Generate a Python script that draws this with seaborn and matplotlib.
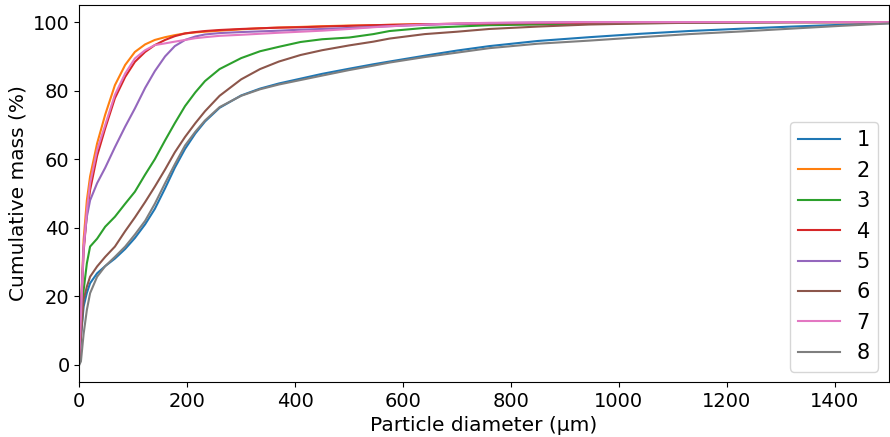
import matplotlib
matplotlib.use("Agg")
import matplotlib.pyplot as plt
import seaborn as sns
import pandas as pd

diameter = [0, 3, 8, 14, 20, 33, 48, 66, 85, 103, 122, 140, 159, 177, 196, 215, 233, 260,
            300, 335, 370, 410, 450, 500, 545, 575, 640, 700, 760, 850, 945, 1040, 1130,
            1230, 1320, 1410, 1500]

s1 = [0.5, 8, 17, 21, 23.8, 26.7, 28.8, 31, 33.8, 37, 41, 45.5, 51.5, 57.5, 63, 67.5, 71, 75,
      78.6, 80.6, 82.1, 83.5, 84.9, 86.4, 87.7, 88.5, 90.2, 91.7, 93.0, 94.5, 95.6, 96.6, 97.4,
      98.1, 98.7, 99.2, 99.7]
s2 = [2, 16, 36.5, 48, 55, 64.6, 73, 81.6, 87.5, 91.3, 93.5, 94.8, 95.6, 96.2, 96.7, 97, 97.2, 97.5,
      97.9, 98.2, 98.4, 98.6, 98.8, 99, 99.1, 99.2, 99.4, 99.5, 99.6, 99.7, 99.8, 99.9, 100,
      100, 100, 100, 100]
s3 = [1, 12, 21.7, 29.6, 34.5, 36.8, 40.3, 43.2, 47, 50.5, 55.5, 60, 65.5, 70.5, 75.5, 79.5, 82.8, 86.3,
      89.5, 91.5, 92.8, 94.2, 95.0, 95.5, 96.5, 97.4, 98.3, 98.7, 99.1, 99.3, 99.6, 99.7, 99.8,
      99.9, 100, 100, 100]
s4 = [2, 14, 33, 44, 51, 61, 69, 77.8, 84, 88.4, 91.3, 93.3, 94.8, 95.9, 96.7, 97.1, 97.4, 97.7,
      98, 98.2, 98.4, 98.5, 98.7, 98.9, 99.1, 99.2, 99.4, 99.5, 99.6, 99.7, 99.8, 99.9, 100,
      100, 100, 100, 100]
s5 = [2, 16, 34.5, 43.2, 48, 53, 57.5, 63.5, 69.5, 74.8, 80.8, 85.7, 90, 93, 94.8, 95.8, 96.4, 96.8,
      97.1, 97.3, 97.5, 97.8, 98, 98.3, 98.6, 98.8, 99.2, 99.5, 99.7, 99.9, 100, 100, 100,
      100, 100, 100, 100]
s6 = [1, 8, 19, 22.8, 25.7, 28.7, 31.5, 34.5, 39, 43, 47.5, 52, 57, 62, 66.5, 70.5, 74, 78.5,
      83.3, 86.3, 88.5, 90.4, 91.8, 93.2, 94.3, 95.2, 96.5, 97.2, 98, 98.7, 99.3, 99.6, 99.8,
      99.9, 100, 100, 100]
s7 = [2, 14, 34, 45.2, 53, 62.7, 70, 78.8, 85, 89.4, 91.8, 93.3, 93.8, 94.3, 94.8, 95.3, 95.6, 96,
      96.3, 96.6, 96.9, 97.2, 97.5, 98, 98.5, 98.8, 99.3, 99.6, 99.8, 99.9, 100, 100, 100,
      100, 100, 100, 100]
s8 = [0, 1, 9, 16, 20.9, 25.7, 28.8, 31.5, 34.5, 38, 42, 47, 53, 58.5, 64, 68, 71.3, 75.2,
      78.5, 80.4, 81.8, 83.1, 84.4, 86, 87.3, 88.2, 89.8, 91.1, 92.4, 93.7, 94.6, 95.6, 96.5,
      97.3, 98.1, 98.9, 99.6]

labels = ["1", "2", "3", "4", "5", "6", "7", "8"]
series = [s1, s2, s3, s4, s5, s6, s7, s8]

rows = []
for lab, vals in zip(labels, series):
    for d, v in zip(diameter, vals):
        rows.append({"diameter": d, "mass": v, "sample": lab})
df = pd.DataFrame(rows)

plt.rcParams["font.family"] = ["DejaVu Sans"]
fig = plt.figure(figsize=(8.9, 4.37), dpi=100)
ax = fig.add_axes([0.0891, 0.126, 0.9094, 0.8626])

sns.lineplot(data=df, x="diameter", y="mass", hue="sample", hue_order=labels,
             palette="tab10", linewidth=1.5, ax=ax, sort=True)

ax.set_xlim(0, 1500)
ax.set_ylim(-5, 105)
ax.set_xlabel("Particle diameter (µm)", fontsize=14.5)
ax.set_ylabel("Cumulative mass (%)", fontsize=14.5)
ax.tick_params(labelsize=14)
ax.legend(loc="lower right", fontsize=15)

fig.savefig("out.png", dpi=100)
